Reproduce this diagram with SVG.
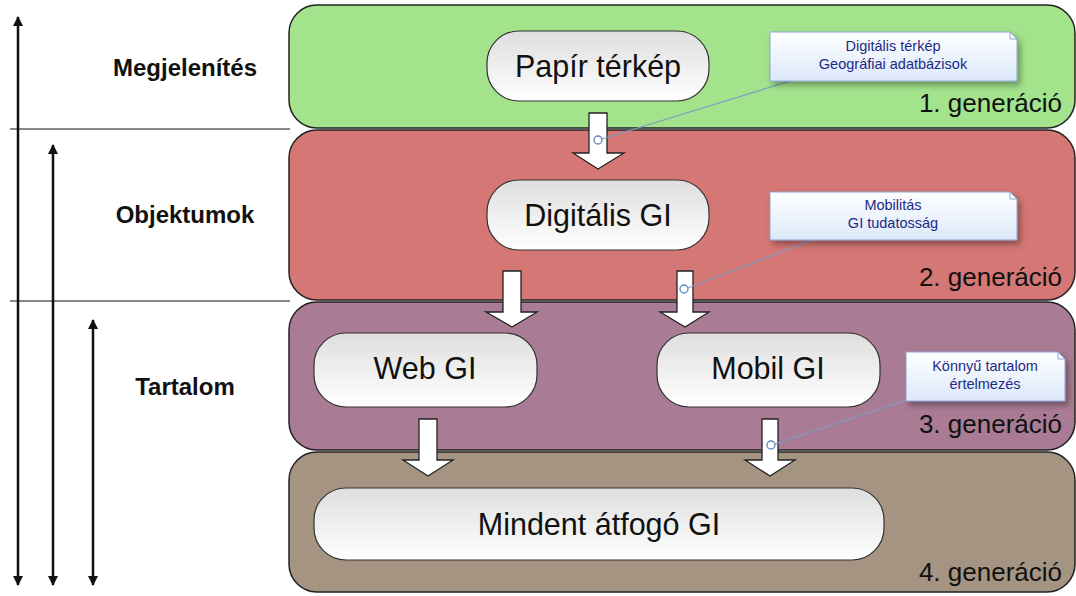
<svg xmlns="http://www.w3.org/2000/svg" width="1076" height="596" viewBox="0 0 1076 596">
<defs>
<linearGradient id="nodeGrad" x1="0" y1="0" x2="0" y2="1">
<stop offset="0" stop-color="#dedede"/>
<stop offset="1" stop-color="#ffffff"/>
</linearGradient>
<linearGradient id="noteGrad" x1="0" y1="0" x2="0" y2="1">
<stop offset="0" stop-color="#ffffff"/>
<stop offset="1" stop-color="#dce8fa"/>
</linearGradient>
<filter id="shadow" x="-20%" y="-30%" width="150%" height="180%">
<feGaussianBlur in="SourceAlpha" stdDeviation="3"/>
<feOffset dx="3" dy="4" result="b"/>
<feComponentTransfer><feFuncA type="linear" slope="0.35"/></feComponentTransfer>
<feMerge><feMergeNode/><feMergeNode in="SourceGraphic"/></feMerge>
</filter>
<marker id="ah" viewBox="0 0 10 10" refX="9" refY="5" markerWidth="4" markerHeight="4" orient="auto-start-reverse">
<path d="M0,0 L10,5 L0,10 Z" fill="#111"/>
</marker>
</defs>
<style>
.band{stroke:#222;stroke-width:1.5}
.node{fill:url(#nodeGrad);stroke:#333;stroke-width:1.2}
.ntext{font-family:"Liberation Sans",Arial,sans-serif;font-size:30.5px;fill:#111;text-anchor:middle}
.gen{font-family:"Liberation Sans",Arial,sans-serif;font-size:26px;fill:#111;text-anchor:end}
.lbl{font-family:"Liberation Sans",Arial,sans-serif;font-size:24px;font-weight:bold;fill:#111;text-anchor:middle}
.note{fill:url(#noteGrad);stroke:#8aa6d4;stroke-width:1}
.ntxt{font-family:"Liberation Sans",Arial,sans-serif;font-size:14.5px;fill:#1c2a86;text-anchor:middle}
.blk{fill:#fff;stroke:#222;stroke-width:1.3;stroke-linejoin:miter}
.lead{stroke:#7f9cc6;stroke-width:1.2;fill:none}
.dot{fill:none;stroke:#5f86c4;stroke-width:1.3}
.axis{stroke:#111;stroke-width:2.5;fill:none}
.hl{stroke:#111;stroke-width:1}
</style>

<g id="bands">
<rect id="band1" class="band" x="289" y="5" width="786" height="123" rx="28" fill="#a3e38b"/>
<rect id="band2" class="band" x="289" y="130" width="786" height="170" rx="28" fill="#d57774"/>
<rect id="band3" class="band" x="289" y="302" width="786" height="148" rx="28" fill="#aa7b94"/>
<rect id="band4" class="band" x="289" y="452" width="786" height="140" rx="28" fill="#a59481"/>
</g>

<g id="gen-labels">
<text class="gen" x="1062" y="112">1. generáció</text>
<text class="gen" x="1062" y="286">2. generáció</text>
<text class="gen" x="1062" y="433">3. generáció</text>
<text class="gen" x="1062" y="581">4. generáció</text>
</g>

<g id="left-axis">
<line class="hl" x1="10" y1="129" x2="290" y2="129"/>
<line class="hl" x1="10" y1="301" x2="290" y2="301"/>
<line class="axis" x1="18" y1="17" x2="18" y2="585" marker-start="url(#ah)" marker-end="url(#ah)"/>
<line class="axis" x1="53" y1="145" x2="53" y2="585" marker-start="url(#ah)" marker-end="url(#ah)"/>
<line class="axis" x1="93" y1="320" x2="93" y2="585" marker-start="url(#ah)" marker-end="url(#ah)"/>
<text class="lbl" x="185" y="76">Megjelenítés</text>
<text class="lbl" x="185" y="223">Objektumok</text>
<text class="lbl" x="185" y="395">Tartalom</text>
</g>

<g id="connectors">
<path class="blk" d="M589,113 H607 V153 H624 L598,169 L573,153 H589 Z"/>
<path class="blk" d="M503,271 H521 V312 H537 L512,327 L486,312 H503 Z"/>
<path class="blk" d="M677,271 H693 V312 H709 L685,327 L660,312 H677 Z"/>
<path class="blk" d="M419,419 H437 V460 H453 L428,476 L403,460 H419 Z"/>
<path class="blk" d="M762,419 H778 V460 H795 L770,476 L745,460 H762 Z"/>
</g>

<g id="node-papir">
<rect class="node" x="487" y="31" width="222" height="70" rx="32"/>
<text class="ntext" x="598" y="77">Papír térkép</text>
</g>
<g id="node-digitalis">
<rect class="node" x="487" y="180" width="222" height="70" rx="32"/>
<text class="ntext" x="598" y="226">Digitális GI</text>
</g>
<g id="node-web">
<rect class="node" x="314" y="333" width="223" height="74" rx="32"/>
<text class="ntext" x="425" y="379">Web GI</text>
</g>
<g id="node-mobil">
<rect class="node" x="657" y="333" width="223" height="74" rx="32"/>
<text class="ntext" x="768" y="379">Mobil GI</text>
</g>
<g id="node-mindent">
<rect class="node" x="314" y="488" width="570" height="72" rx="32"/>
<text class="ntext" x="599" y="535">Mindent átfogó GI</text>
</g>

<g id="callouts">
<g id="note1">
<line class="lead" x1="790" y1="81" x2="602" y2="139"/>
<circle class="dot" cx="598" cy="140" r="4"/>
<path class="note" filter="url(#shadow)" d="M770,32 H1010 L1017,39 V81 H770 Z"/>
<path d="M1010,32 V39 H1017" fill="none" stroke="#8aa6d4" stroke-width="1"/>
<text class="ntxt" x="893" y="51">Digitális térkép</text>
<text class="ntxt" x="893" y="69">Geográfiai adatbázisok</text>
</g>
<g id="note2">
<line class="lead" x1="812" y1="240" x2="688" y2="288"/>
<circle class="dot" cx="684" cy="289" r="4"/>
<path class="note" filter="url(#shadow)" d="M770,192 H1010 L1017,199 V240 H770 Z"/>
<path d="M1010,192 V199 H1017" fill="none" stroke="#8aa6d4" stroke-width="1"/>
<text class="ntxt" x="893" y="210">Mobilitás</text>
<text class="ntxt" x="893" y="228">GI tudatosság</text>
</g>
<g id="note3">
<line class="lead" x1="907" y1="400" x2="775" y2="444"/>
<circle class="dot" cx="771" cy="445" r="4"/>
<path class="note" filter="url(#shadow)" d="M906,352 H1058 L1065,359 V401 H906 Z"/>
<path d="M1058,352 V359 H1065" fill="none" stroke="#8aa6d4" stroke-width="1"/>
<text class="ntxt" x="985" y="371">Könnyű tartalom</text>
<text class="ntxt" x="985" y="389">értelmezés</text>
</g>
</g>
</svg>
